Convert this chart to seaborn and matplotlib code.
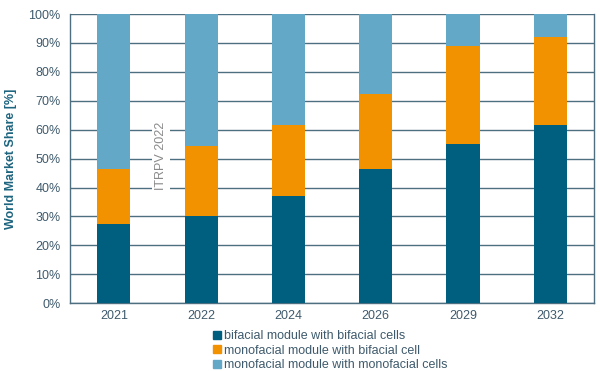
import matplotlib
matplotlib.use('Agg')
import matplotlib.pyplot as plt
import matplotlib.patches as mpatches
import matplotlib.ticker
import numpy as np
import pandas as pd
import seaborn as sns

years = ['2021', '2022', '2024', '2026', '2029', '2032']
bifacial_bifacial = [27.5, 30.0, 37.0, 46.5, 55.0, 61.5]
monofacial_bifacial = [19.0, 24.5, 24.5, 26.0, 34.0, 30.5]
monofacial_monofacial = [53.5, 45.5, 38.5, 27.5, 11.0, 8.0]

labels = ['bifacial module with bifacial cells',
          'monofacial module with bifacial cell',
          'monofacial module with monofacial cells']
colors = ['#005f7f', '#f39200', '#64a8c8']

sns.set_theme(style='white')
plt.rcParams['font.family'] = ['Liberation Sans', 'DejaVu Sans']

df = pd.DataFrame({
    'Year': years,
    'bb': bifacial_bifacial,
    'mb': monofacial_bifacial,
    'mm': monofacial_monofacial,
})
df['c1'] = df['bb']
df['c2'] = df['bb'] + df['mb']
df['c3'] = df['c2'] + df['mm']

fig = plt.figure(figsize=(6, 3.71), dpi=100)
ax = fig.add_axes([0.117, 0.183, 0.873, 0.779])

grid_col = '#4d6f80'
text_col = '#3e5a6c'

# stacked bars drawn from the top total down
for col, c in zip(['c3', 'c2', 'c1'], colors[::-1]):
    sns.barplot(data=df, x='Year', y=col, color=c, width=0.38,
                saturation=1, ax=ax, zorder=3, linewidth=0)

ax.set_ylim(0, 100)
ax.set_xlim(-0.5, 5.5)
ax.yaxis.set_major_locator(matplotlib.ticker.MultipleLocator(10))
ax.yaxis.set_major_formatter(matplotlib.ticker.FuncFormatter(lambda v, p: f'{int(v)}%'))
ax.grid(axis='y', color=grid_col, linewidth=1.0, zorder=0)
ax.set_axisbelow(True)
for s in ax.spines.values():
    s.set_color(grid_col)
    s.set_linewidth(1.0)
ax.spines['top'].set_visible(False)

ax.tick_params(axis='y', labelsize=9, labelcolor=text_col, length=0, pad=7)
ax.tick_params(axis='x', labelsize=9, labelcolor=text_col, length=0, pad=5)
ax.set_xlabel('')
ax.set_ylabel('World Market Share [%]', fontsize=9, fontweight='bold', color='#1d6580', labelpad=8)

ax.text(0.54, 51, 'ITRPV 2022', rotation=90, ha='center', va='center', fontsize=9,
        color='#8a8a8a', zorder=4,
        bbox=dict(facecolor='white', edgecolor='none', pad=2))

handles = [mpatches.Patch(color=c, label=l) for c, l in zip(colors, labels)]
fig.legend(handles=handles, loc='upper left', bbox_to_anchor=(0.345, 0.127),
           frameon=False, fontsize=9, handlelength=0.65, handleheight=0.65,
           handletextpad=0.25, labelspacing=0.2, borderpad=0, labelcolor=text_col)

fig.savefig('out.png', dpi=100, facecolor='white')
